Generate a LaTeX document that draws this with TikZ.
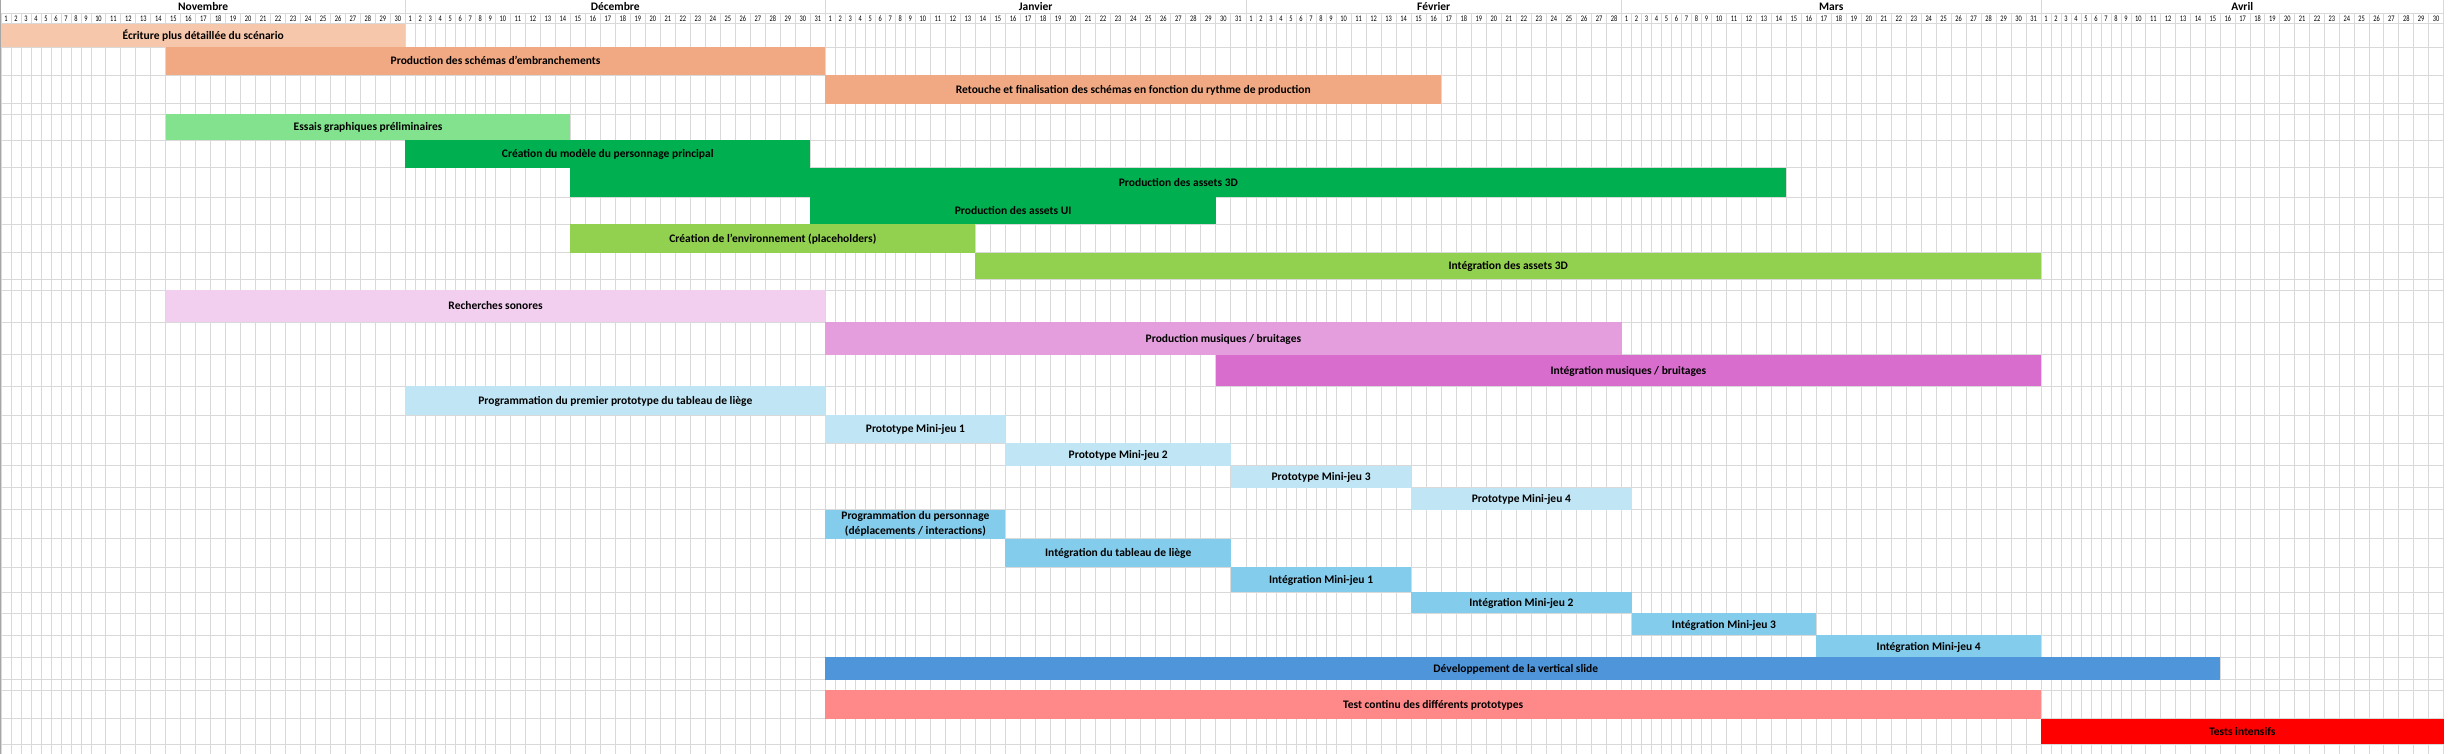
\documentclass[tikz,border=0pt]{standalone}
\usepackage{fontspec}
\setmainfont{Carlito}
\newfontfamily\tinyfont[FakeStretch=0.75]{Carlito}
\usetikzlibrary{fit,calc}
\definecolor{gridc}{HTML}{D9D9D9}
\definecolor{edgec}{HTML}{A6A6A6}
\definecolor{c1}{HTML}{F7C7AC}
\definecolor{c2}{HTML}{F1A983}
\definecolor{c3}{HTML}{83E28E}
\definecolor{c4}{HTML}{00B050}
\definecolor{c5}{HTML}{92D050}
\definecolor{c6}{HTML}{F2CEEF}
\definecolor{c7}{HTML}{E49EDD}
\definecolor{c8}{HTML}{D86DCD}
\definecolor{c9}{HTML}{C0E6F5}
\definecolor{c10}{HTML}{83CCEB}
\definecolor{c11}{HTML}{4E95D9}
\definecolor{c12}{HTML}{FF8989}
\definecolor{c13}{HTML}{FF0000}
\tikzset{
  gridline/.style={draw=gridc, line width=1pt},
  bar/.style={inner sep=0pt, outer sep=0pt, draw=none},
  lblline/.style={font=\bfseries\fontsize{11.5}{14}\selectfont, inner sep=0pt, anchor=base, text=black},
  daynum/.style={font=\tinyfont\fontsize{8.5}{9}\selectfont, inner sep=0pt},
  month/.style={font=\bfseries\fontsize{11.5}{12}\selectfont, inner sep=0pt, anchor=base},
}
\newcommand\ganttbar[8][0]{%
  \path (#3|-0,#5) coordinate (#2a) (#4|-0,#6) coordinate (#2b);
  \node[bar, fill=#7, fit={(#2a)(#2b)}] (#2) {};
  \node[lblline] (#2t) at ($(#2.center)+(#1,3.7)$) {#8};}
\begin{document}
\begin{tikzpicture}[x=1pt, y=-1pt]
\useasboundingbox (0,0) rectangle (2454,754);
\fill[white] (0,0) rectangle (2454,754);
% day columns
\foreach \mm/\ms/\mn/\mw in {N/1/30/14.97, D/405.3/31/15, J/825.3/31/15.03, F/1246/28/15.03, M/1621.5/31/14.98, A/2041/30/14.88} {
  \foreach \dy in {1,...,\mn} {
    \pgfmathsetmacro\xx{\dy<10 ? \ms+(\dy-1)*10 : \ms+90+(\dy-10)*\mw}
    \pgfmathsetmacro\cw{\dy<10 ? 10 : \mw}
    \coordinate (\mm\dy) at (\xx,0);
    \draw[gridline] (\xx,13.3) -- (\xx,754);
    \node[daynum] (dn\mm\dy) at (\xx+\cw/2,18.65) {\dy};
  }
}
\coordinate (E) at (2443.5,0);
\draw[gridline] (E|-0,13.3) -- (E|-0,754);
% month separators and names
\foreach \p in {D1,J1,F1,M1,A1,E} \draw[gridline] (\p) -- (\p|-0,13.3);
\node[month] (mN) at ($(N1)!.5!(D1)+(0,10.4)$) {Novembre};
\node[month] (mD) at ($(D1)!.5!(J1)+(0,10.4)$) {Décembre};
\node[month] (mJ) at ($(J1)!.5!(F1)+(0,10.4)$) {Janvier};
\node[month] (mF) at ($(F1)!.5!(M1)+(0,10.4)$) {Février};
\node[month] (mM) at ($(M1)!.5!(A1)+(0,10.4)$) {Mars};
\node[month] (mA) at ($(A1)!.5!(E)+(0,10.4)$) {Avril};
% row lines
\foreach \yy in {13.3,24,47.3,75.3,103.7,114.3,140.3,167.7,197.3,224,252.7,279.3,290,322.3,354.7,386,415,443.3,465.7,487.7,509.7,538.7,567.3,592.3,613.3,635.3,657.3,679.7,690,718.7,744.3}
  \draw[gridline] (0,\yy) -- (2444,\yy);
% bars
\ganttbar{b1}{N1}{D1}{24}{47.3}{c1}{Écriture plus détaillée du scénario}
\ganttbar{b2}{N15}{J1}{47.3}{75.3}{c2}{Production des schémas d'embranchements}
\ganttbar{b3}{J1}{F17}{75.3}{103.7}{c2}{Retouche et finalisation des schémas en fonction du rythme de production}
\ganttbar{b4}{N15}{D15}{114.3}{140.3}{c3}{Essais graphiques préliminaires}
\ganttbar{b5}{D1}{D31}{140.3}{167.7}{c4}{Création du modèle du personnage principal}
\ganttbar{b6}{D15}{M15}{167.7}{197.3}{c4}{Production des assets 3D}
\ganttbar{b7}{D31}{J30}{197.3}{224}{c4}{Production des assets UI}
\ganttbar{b8}{D15}{J14}{224}{252.7}{c5}{Création de l'environnement (placeholders)}
\ganttbar{b9}{J14}{A1}{252.7}{279.3}{c5}{Intégration des assets 3D}
\ganttbar{b10}{N15}{J1}{290}{322.3}{c6}{Recherches sonores}
\ganttbar{b11}{J1}{M1}{322.3}{354.7}{c7}{Production musiques / bruitages}
\ganttbar{b12}{J30}{A1}{354.7}{386}{c8}{Intégration musiques / bruitages}
\ganttbar{b13}{D1}{J1}{386}{415}{c9}{Programmation du premier prototype du tableau de liège}
\ganttbar{b14}{J1}{J16}{415}{443.3}{c9}{Prototype Mini-jeu 1}
\ganttbar{b15}{J16}{J31}{443.3}{465.7}{c9}{Prototype Mini-jeu 2}
\ganttbar{b16}{J31}{F15}{465.7}{487.7}{c9}{Prototype Mini-jeu 3}
\ganttbar{b17}{F15}{M2}{487.7}{509.7}{c9}{Prototype Mini-jeu 4}
\path (J1|-0,509.7) coordinate (b18a) (J16|-0,538.7) coordinate (b18b);
\node[bar, fill=c10, fit={(b18a)(b18b)}] (b18) {};
\node[lblline] (b18l1) at ($(b18.center)+(0,-4.3)$) {Programmation du personnage};
\node[lblline] (b18l2) at ($(b18.center)+(0,10.4)$) {(déplacements / interactions)};
\ganttbar{b19}{J16}{J31}{538.7}{567.3}{c10}{Intégration du tableau de liège}
\ganttbar{b20}{J31}{F15}{567.3}{592.3}{c10}{Intégration Mini-jeu 1}
\ganttbar{b21}{F15}{M2}{592.3}{613.3}{c10}{Intégration Mini-jeu 2}
\ganttbar{b22}{M2}{M17}{613.3}{635.3}{c10}{Intégration Mini-jeu 3}
\ganttbar{b23}{M17}{A1}{635.3}{657.3}{c10}{Intégration Mini-jeu 4}
\ganttbar[-7]{b24}{J1}{A16}{657.3}{679.7}{c11}{Développement de la vertical slide}
\ganttbar{b25}{J1}{A1}{690}{718.7}{c12}{Test continu des différents prototypes}
\ganttbar{b26}{A1}{E}{718.7}{744.3}{c13}{Tests intensifs}
% left border
\draw[edgec, line width=1.3pt] (0.65,0) -- (0.65,754);
\end{tikzpicture}
\end{document}
